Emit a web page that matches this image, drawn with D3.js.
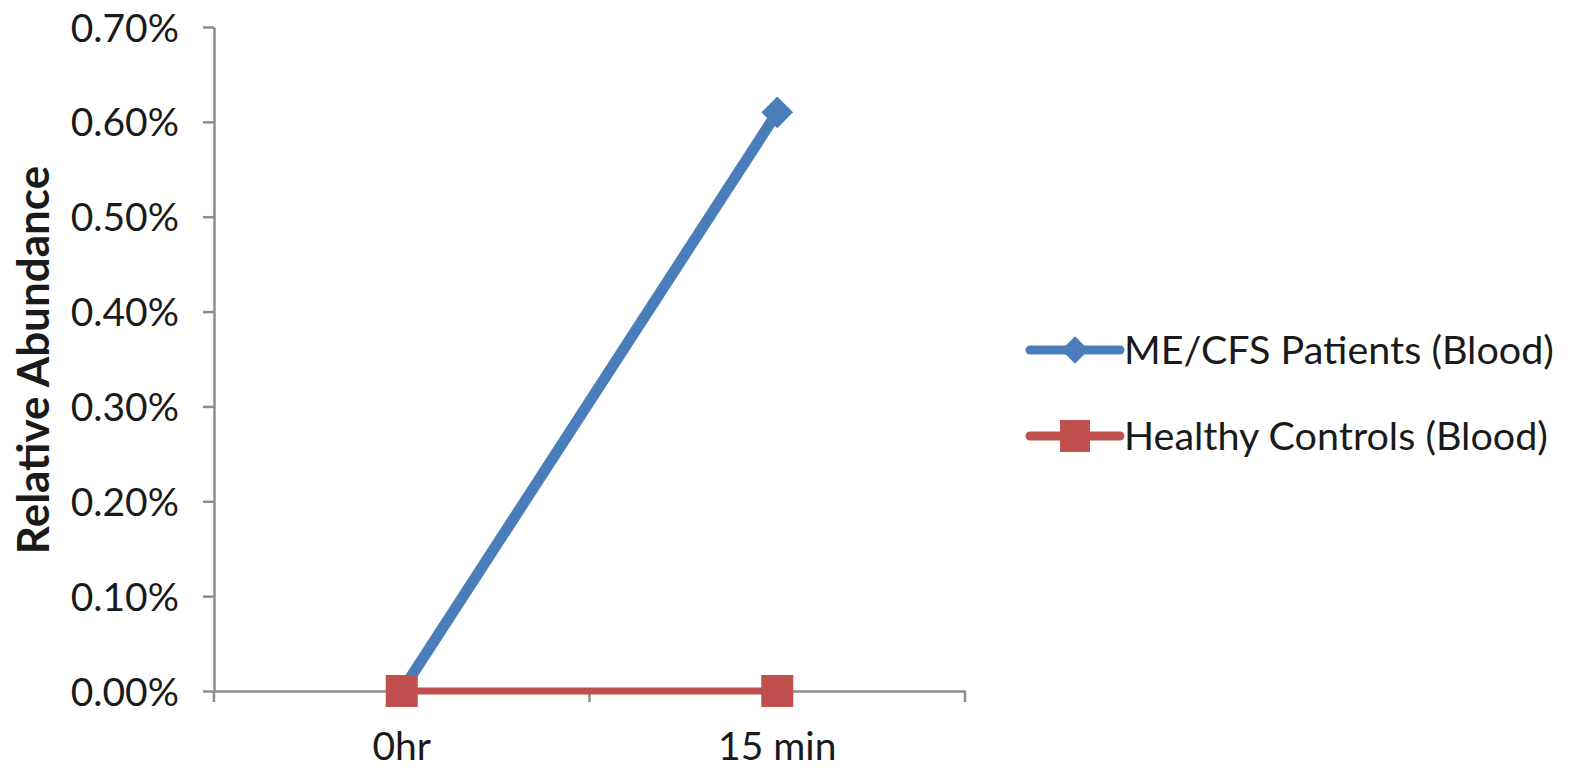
<!DOCTYPE html>
<html>
<head>
<meta charset="utf-8">
<script src="https://cdn.jsdelivr.net/npm/d3@7"></script>
<style>
  body { margin: 0; background: #fff; }
  svg { display: block; }
  text { font-family: Lato, "Open Sans", sans-serif; fill: #1a1a1a; }
</style>
</head>
<body>
<svg width="1580" height="772"></svg>
<script>
// data
const timepoints = ["0hr", "15 min"];
const patientsBlood = [0.0, 0.0061];
const controlsBlood = [0.0, 0.0];
const yTicks = [0, 0.001, 0.002, 0.003, 0.004, 0.005, 0.006, 0.007];
const seriesNames = ["ME/CFS Patients (Blood)", "Healthy Controls (Blood)"];

const svg = d3.select("svg");
const plot = { left: 214, right: 965, top: 27, bottom: 691 };

const x = d3.scaleBand().domain(timepoints).range([plot.left, plot.right]);
const y = d3.scaleLinear().domain([0, 0.007]).range([plot.bottom, plot.top]);

const axisColor = "#8c8c8c";
const fontSize = "39px";

// y axis
const yAxis = svg.append("g")
  .attr("transform", `translate(${plot.left},0)`)
  .call(d3.axisLeft(y).tickValues(yTicks).tickFormat(d3.format(".2%")).tickSize(11).tickSizeOuter(0).tickPadding(24));
yAxis.select(".domain").attr("stroke", axisColor).attr("stroke-width", 2.5);
yAxis.selectAll(".tick line").attr("stroke", axisColor).attr("stroke-width", 2.5);
yAxis.selectAll(".tick text").style("font-size", fontSize).attr("fill", "#1a1a1a").attr("dy", "0.36em");

// x axis
const xAxis = svg.append("g")
  .attr("transform", `translate(0,${plot.bottom})`)
  .call(d3.axisBottom(x).tickSize(0).tickPadding(41));
xAxis.select(".domain").attr("stroke", axisColor).attr("stroke-width", 2.5);
xAxis.selectAll(".tick text").style("font-size", fontSize).attr("fill", "#1a1a1a");

// category boundary ticks
const bounds = timepoints.map((d) => x(d)).concat([x(timepoints[timepoints.length - 1]) + x.bandwidth()]);
xAxis.selectAll(".bound")
  .data(bounds)
  .join("line")
  .attr("class", "bound")
  .attr("x1", (d) => d)
  .attr("x2", (d) => d)
  .attr("y1", 0)
  .attr("y2", 11)
  .attr("stroke", axisColor)
  .attr("stroke-width", 2.5);

// y axis title
svg.append("text")
  .attr("transform", `translate(49,${(plot.top + plot.bottom) / 2 + 1}) rotate(-90)`)
  .attr("text-anchor", "middle")
  .style("font-size", "44px")
  .style("font-weight", "bold")
  .text("Relative Abundance");

const cx = (i) => x(timepoints[i]) + x.bandwidth() / 2;
const line = d3.line().x((d, i) => cx(i)).y((d) => y(d));

const blue = "#4a7ebb";
const red = "#c0504d";

// patients series
svg.append("path")
  .datum(patientsBlood)
  .attr("d", line)
  .attr("fill", "none")
  .attr("stroke", blue)
  .attr("stroke-width", 11);

svg.selectAll(".pt-blue")
  .data(patientsBlood)
  .join("path")
  .attr("class", "pt-blue")
  .attr("transform", (d, i) => `translate(${cx(i)},${y(d)}) rotate(45)`)
  .attr("d", d3.symbol().type(d3.symbolSquare).size(500))
  .attr("fill", blue);

// controls series
svg.append("path")
  .datum(controlsBlood)
  .attr("d", line)
  .attr("fill", "none")
  .attr("stroke", red)
  .attr("stroke-width", 7);

svg.selectAll(".pt-red")
  .data(controlsBlood)
  .join("rect")
  .attr("class", "pt-red")
  .attr("x", (d, i) => cx(i) - 16)
  .attr("y", (d) => y(d) - 16)
  .attr("width", 32)
  .attr("height", 32)
  .attr("fill", red);

// legend
const legend = svg.append("g").attr("transform", "translate(1030,350)");
const items = legend.selectAll("g")
  .data(seriesNames)
  .join("g")
  .attr("transform", (d, i) => `translate(0,${i * 86})`);

items.append("line")
  .attr("x1", 0).attr("x2", 90)
  .attr("y1", 0).attr("y2", 0)
  .attr("stroke", (d, i) => (i === 0 ? blue : red))
  .attr("stroke-width", 9)
  .attr("stroke-linecap", "round");

items.filter((d, i) => i === 0).append("path")
  .attr("transform", "translate(45,0) rotate(45)")
  .attr("d", d3.symbol().type(d3.symbolSquare).size(380))
  .attr("fill", blue);

items.filter((d, i) => i === 1).append("rect")
  .attr("x", 30).attr("y", -16).attr("width", 30).attr("height", 32)
  .attr("fill", red);

items.append("text")
  .attr("x", 94)
  .attr("dy", "0.35em")
  .style("font-size", "39.5px")
  .text((d) => d);
</script>
</body>
</html>
